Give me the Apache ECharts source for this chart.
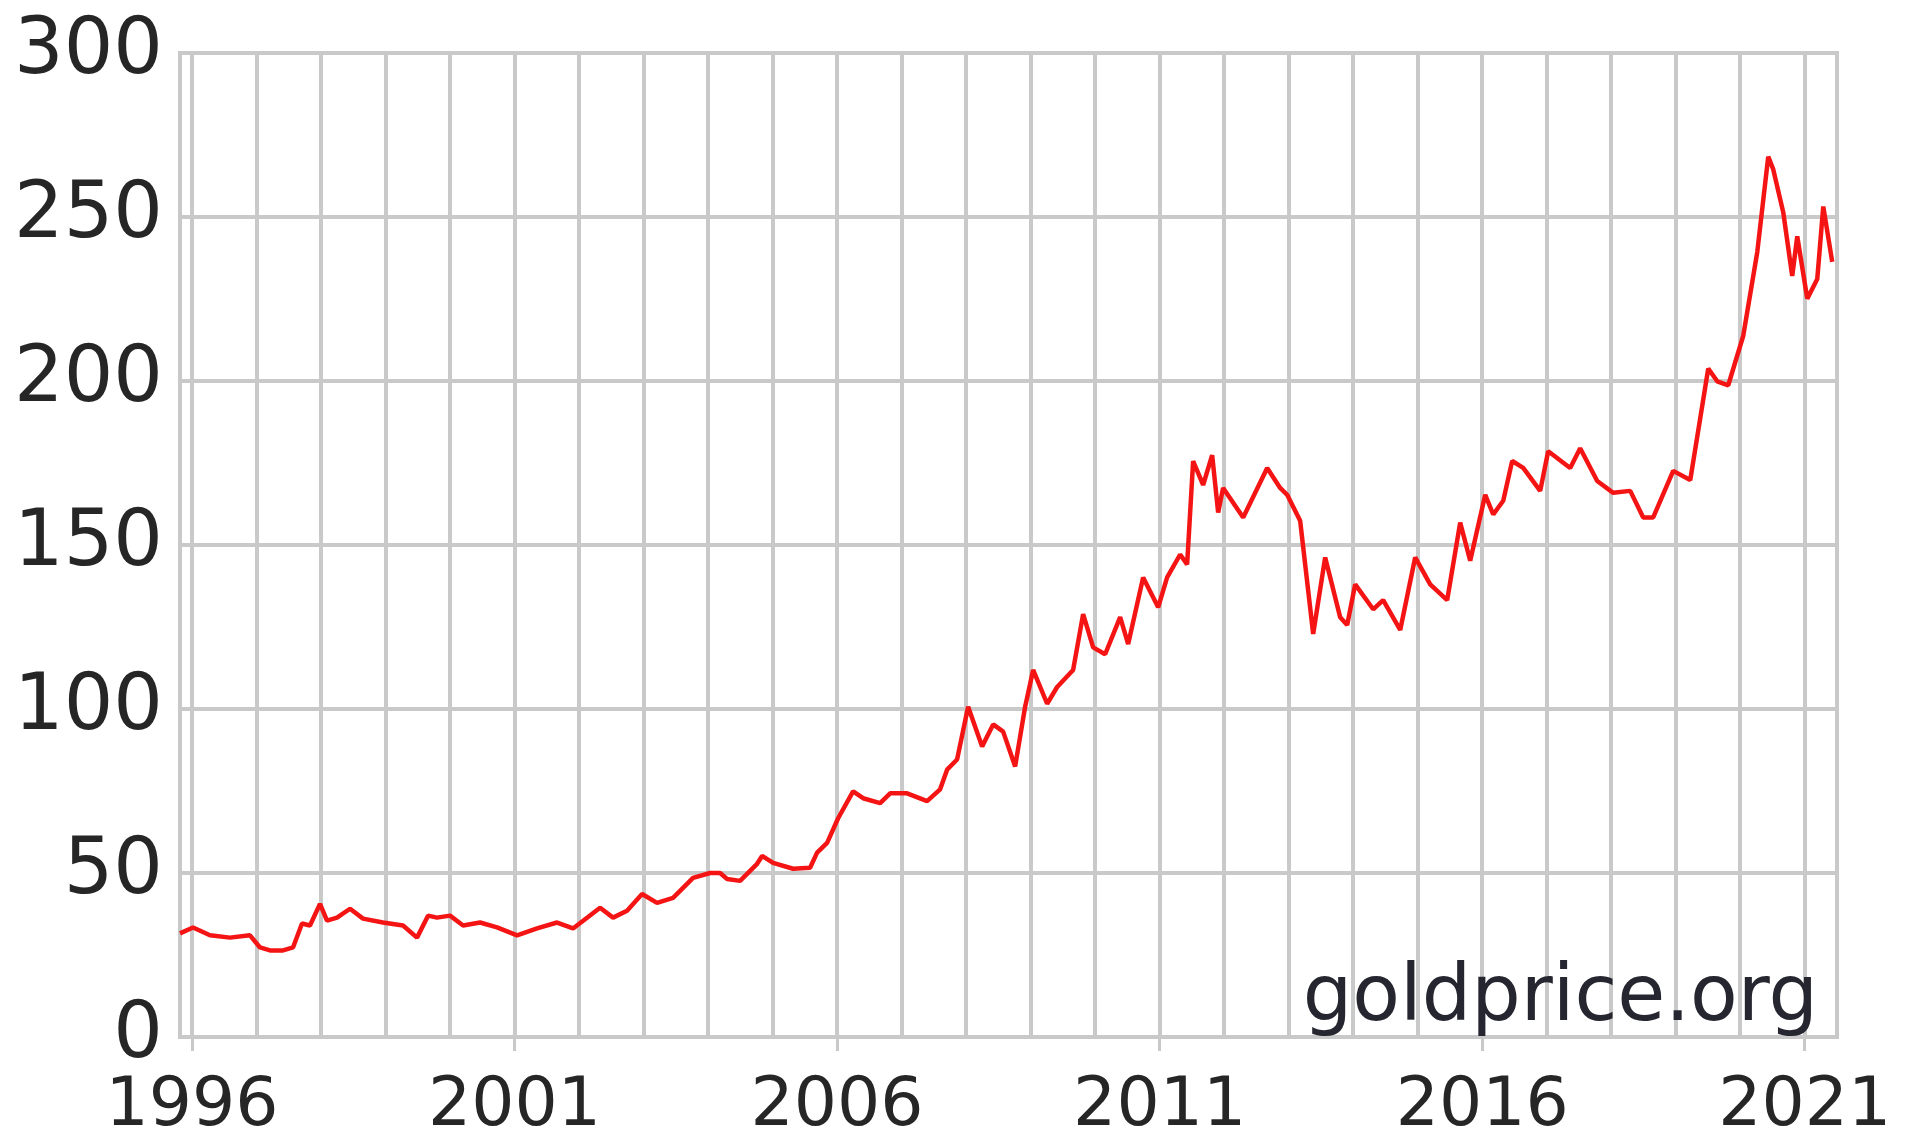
<!DOCTYPE html>
<html>
<head>
<meta charset="utf-8">
<script src="https://cdn.jsdelivr.net/npm/echarts@6/dist/echarts.min.js"></script>
<style>
html,body{margin:0;padding:0;background:#fff;}
#chart{width:1912px;height:1141px;}
</style>
</head>
<body>
<div id="chart"></div>
<script>
// Time (decimal year) of each reading
var years = [
1995.814,1996.016,1996.279,1996.589,1996.899,1997.054,1997.209,1997.411,1997.566,1997.705,
1997.829,1997.984,1998.093,1998.248,1998.450,1998.651,1998.961,1999.271,1999.488,1999.659,
1999.798,2000.000,2000.202,2000.465,2000.729,2001.039,2001.349,2001.659,
2001.907,2002.326,2002.527,2002.744,2002.977,2003.209,2003.457,2003.767,2004.031,2004.186,
2004.295,2004.496,2004.760,2004.837,2005.008,2005.318,2005.581,2005.690,2005.845,2006.016,
2006.248,2006.403,2006.667,2006.822,2007.085,2007.395,2007.597,2007.705,2007.860,2008.031,
2008.248,2008.419,2008.574,2008.760,2008.915,2009.039,2009.256,2009.411,2009.659,2009.814,
2009.969,2010.155,2010.388,2010.512,2010.744,2010.977,2011.116,2011.318,2011.426,2011.519,
2011.674,2011.814,2011.907,2011.984,2012.295,2012.667,2012.868,2012.977,2013.178,2013.380,
2013.566,2013.798,2013.907,2014.031,2014.310,2014.465,2014.729,2014.961,2015.194,2015.457,
2015.659,2015.814,2016.047,2016.171,2016.326,2016.465,2016.636,2016.899,2017.023,2017.364,
2017.519,2017.783,2018.031,2018.295,2018.496,2018.651,2018.961,2019.225,2019.504,2019.643,
2019.814,2020.047,2020.264,2020.434,2020.512,2020.667,2020.806,2020.884,2021.039,2021.194,
2021.287,2021.426
];
// Price readings
var prices = [
31.6,33.4,31.0,30.3,31.0,27.3,26.4,26.4,27.3,34.6,
34.0,40.6,35.5,36.4,39.1,36.1,34.9,34.0,30.3,37.0,
36.4,37.0,34.0,34.9,33.4,31.0,33.1,34.9,
33.1,39.4,36.4,38.5,43.6,40.9,42.4,48.5,50.0,50.0,
48.2,47.6,52.8,55.2,53.1,51.3,51.6,56.2,59.2,66.7,
74.9,72.8,71.3,74.3,74.3,71.9,75.5,81.5,84.6,100.7,
88.6,95.3,93.1,82.5,100.7,111.9,101.6,106.7,111.9,128.9,
118.8,116.7,128.0,119.8,140.1,131.0,140.1,147.1,144.1,175.6,
168.3,177.4,159.9,167.4,158.4,173.5,167.4,165.3,157.4,122.9,
146.2,128.0,125.6,138.0,130.4,133.2,124.1,146.2,138.0,133.2,
156.8,145.2,165.3,159.3,163.5,175.6,173.5,166.5,178.6,173.5,
179.5,169.5,165.9,166.5,158.4,158.4,172.6,169.8,203.8,199.9,
198.7,213.8,239.3,268.4,264.5,251.4,232.0,244.1,225.1,231.1,
253.2,236.3
];
var gridYears = [1996,1997,1998,1999,2000,2001,2002,2003,2004,2005,2006,2007,2008,2009,2010,2011,2012,2013,2014,2015,2016,2017,2018,2019,2020,2021];
var labelYears = [1996,2001,2006,2011,2016,2021];
var watermark = 'goldprice.org';

var seriesData = years.map(function(y,i){return [y, prices[i]];});
var gridColor = '#c9c9c9';
var textColor = '#262626';
var font = 'DejaVu Sans';

var chart = echarts.init(document.getElementById('chart'));
chart.setOption({
  animation:false,
  backgroundColor:'#ffffff',
  grid:{left:180,right:75,top:53,bottom:99,show:true,borderColor:gridColor,borderWidth:4,backgroundColor:'transparent'},
  xAxis:[{
    type:'value',min:1995.814,max:2021.5,
    axisLine:{show:false},
    axisTick:{show:false,customValues:gridYears},
    axisLabel:{show:true,customValues:labelYears,fontSize:68,fontFamily:font,color:textColor,margin:36,
      formatter:function(v){return String(Math.round(v));}},
    splitLine:{show:true,lineStyle:{color:gridColor,width:4}}
  },{
    type:'value',min:1995.814,max:2021.5,position:'bottom',
    axisLine:{show:false},
    axisTick:{show:true,customValues:labelYears,length:14,lineStyle:{color:gridColor,width:3}},
    axisLabel:{show:false},
    splitLine:{show:false}
  }],
  yAxis:{
    type:'value',min:0,max:300,interval:50,
    axisLine:{show:false},axisTick:{show:false},
    axisLabel:{fontSize:78,fontFamily:font,color:textColor,margin:17},
    splitLine:{show:true,lineStyle:{color:gridColor,width:4}}
  },
  graphic:[{
    type:'text',x:1818,y:1000,z:50,
    style:{text:watermark,align:'right',verticalAlign:'middle',font:'78px "DejaVu Sans"',fill:'#262630'}
  }],
  series:[{
    type:'line',xAxisIndex:0,data:seriesData,showSymbol:false,z:10,
    lineStyle:{color:'#f41414',width:4.5},
    emphasis:{disabled:true}
  }]
});
</script>
</body>
</html>
